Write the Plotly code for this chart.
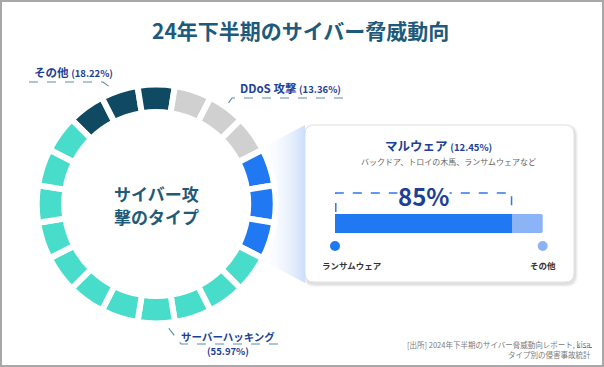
import plotly.graph_objects as go

# ---- data ----
categories = ["その他", "DDoS 攻撃", "マルウェア", "サーバーハッキング"]
shares = [18.22, 13.36, 12.45, 55.97]
segment_counts = [3, 3, 3, 11]          # ring segments per category
colors = ["#0f4a62", "#d0d0d0", "#2079f2", "#48dccb"]
malware_split_labels = ["ランサムウェア", "その他"]
malware_split_values = [85, 15]
malware_split_colors = ["#2079f2", "#8db3f7"]

W, H = 604, 367
FONT = "Noto Sans CJK JP"
NAVY = "#1e3f96"

fig = go.Figure()

# ---- funnel gradient from blue segments to card ----
fig.add_trace(go.Scatter(
    x=[258, 305, 305, 258, 258], y=[150, 125, 283, 258, 150],
    mode="lines", line=dict(width=0), fill="toself",
    fillgradient=dict(type="horizontal",
                      colorscale=[[0, "rgba(255,255,255,0)"], [1, "rgba(205,222,250,1)"]]),
    hoverinfo="skip", showlegend=False))

# ---- donut ring ----
seg_vals, seg_cols = [], []
for n, c in zip(segment_counts, colors):
    seg_vals += [1] * n
    seg_cols += [c] * n
cx, cy, R = 156.2, 204.0, 119.5
fig.add_trace(go.Pie(
    values=seg_vals, marker=dict(colors=seg_cols, line=dict(color="white", width=6)),
    sort=False, direction="clockwise", rotation=-45, hole=0.77,
    textinfo="none", hoverinfo="skip", showlegend=False,
    domain=dict(x=[(cx - R) / W, (cx + R) / W], y=[1 - (cy + R) / H, 1 - (cy - R) / H])))

# ---- malware split bar (x2 axis in percent) ----
bar_y, bar_h = 223.8, 19
fig.add_trace(go.Bar(x=[malware_split_values[0]], y=[bar_y], width=[bar_h], orientation="h",
                     marker=dict(color=malware_split_colors[0], line=dict(width=0)),
                     xaxis="x2", yaxis="y", hoverinfo="skip", showlegend=False))
fig.add_trace(go.Bar(x=[malware_split_values[1]], y=[bar_y], width=[bar_h], orientation="h",
                     marker=dict(color=malware_split_colors[1], line=dict(width=0)),
                     xaxis="x2", yaxis="y", hoverinfo="skip", showlegend=False))
fig.add_trace(go.Scatter(x=[0, 100], y=[246, 246], mode="markers",
                         marker=dict(size=10, color=malware_split_colors),
                         xaxis="x2", yaxis="y", cliponaxis=False,
                         hoverinfo="skip", showlegend=False))

shapes = []
# frame
shapes.append(dict(type="rect", xref="x", yref="y", x0=1, y0=1, x1=603, y1=366,
                   line=dict(color="#a8a8a8", width=2), fillcolor="rgba(0,0,0,0)", layer="above"))

def rrect(x0, y0, x1, y1, r):
    return (f"M {x0+r},{y0} L {x1-r},{y0} Q {x1},{y0} {x1},{y0+r} L {x1},{y1-r} "
            f"Q {x1},{y1} {x1-r},{y1} L {x0+r},{y1} Q {x0},{y1} {x0},{y1-r} "
            f"L {x0},{y0+r} Q {x0},{y0} {x0+r},{y0} Z")

# card shadow + card
for i, a in enumerate([0.03, 0.04, 0.05]):
    d = 3 - i
    shapes.append(dict(type="path", xref="x", yref="y",
                       path=rrect(305 - d + 1, 125 - d + 2, 574 + d + 1, 282 + d + 2, 9 + d),
                       fillcolor=f"rgba(0,0,0,{a})", line=dict(width=0), layer="below"))
shapes.append(dict(type="path", xref="x", yref="y", path=rrect(305, 125, 574, 282, 9),
                   fillcolor="white", line=dict(color="#e2e2e2", width=1), layer="below"))

# dashed bracket over 85% (drawn on the main pixel axes, positioned from x2 scale)
dash_col = "#2f78ea"
x2_left, x2_right = 335.0, 542.7
def x2px(v):
    return x2_left + (x2_right - x2_left) * v / 100.0
bx0, bx1 = x2px(0) + 0.8, x2px(malware_split_values[0])
shapes.append(dict(type="path", xref="x", yref="y",
                   path=f"M {bx0},212 L {bx0},193 L {bx1},193 L {bx1},212",
                   line=dict(color=dash_col, width=1.5, dash="dash"), layer="above"))

# leader lines
lead = "#5b8fa8"
def leader(pts):
    path = "M " + " L ".join(f"{x},{y}" for x, y in pts)
    shapes.append(dict(type="path", xref="x", yref="y", path=path,
                       line=dict(color=lead, width=1.2, dash="dash"), layer="above"))
leader([(29, 82), (103, 82), (114, 90)])
leader([(343, 98), (232, 98), (225, 108)])
leader([(278, 344), (181, 344), (163, 321)])

# red spell underline under kisa
shapes.append(dict(type="line", xref="x", yref="y", x0=577, x1=592, y0=347.5, y1=347.5,
                   line=dict(color="#e05050", width=1, dash="dot")))

ann = []
def text(x, y, s, size, color, xanchor="center", bold=True, xref="x", bg=None):
    d = dict(x=x, y=y, xref=xref, yref="y", text=f"<b>{s}</b>" if bold else s, showarrow=False,
             xanchor=xanchor, yanchor="middle", font=dict(family=FONT, size=size, color=color))
    if bg:
        d["bgcolor"] = bg
        d["borderpad"] = 0
    ann.append(d)

text(300, 30, "24年下半期のサイバー脅威動向", 21, "#1d5a7b")
text(cx, 193, "サイバー攻", 17, "#1f5a78")
text(cx, 216, "撃のタイプ", 17, "#1f5a78")

def pct(v):
    return f"({v:.2f}%)"

text(32, 72, f"{categories[0]} <span style='font-size:9.5px'>{pct(shares[0])}</span>", 11.5, NAVY, "left")
text(238, 88, f"{categories[1]} <span style='font-size:9.5px'>{pct(shares[1])}</span>", 11.5, NAVY, "left")
text(228, 336, categories[3], 10.5, NAVY)
text(228, 351, pct(shares[3]), 9.5, NAVY)

text(383, 145, f"{categories[2]} <span style='font-size:9.5px'>{pct(shares[2])}</span>", 12.5, NAVY, "left")
text(448, 161, "バックドア、トロイの木馬、ランサムウェアなど", 8, "#666666", bold=False)
text(malware_split_values[0] / 2, 195, f"{malware_split_values[0]}%", 24, NAVY, xref="x2", bg="white")
text(8, 265, malware_split_labels[0], 8.5, "#333333", xref="x2")
text(100, 265, malware_split_labels[1], 8.5, "#333333", xref="x2")

ann.append(dict(x=593, y=349, xref="x", yref="y", showarrow=False, xanchor="right", yanchor="middle",
                align="right", text="[出所] 2024年下半期のサイバー脅威動向レポート, kisa<br>タイプ別の侵害事故統計",
                font=dict(family=FONT, size=7.5, color="#7a7a7a")))

fig.update_layout(
    width=W, height=H, margin=dict(l=0, r=0, t=0, b=0),
    paper_bgcolor="white", plot_bgcolor="rgba(0,0,0,0)",
    barmode="stack", barcornerradius=3, bargap=0,
    xaxis=dict(range=[0, W], visible=False, fixedrange=True),
    yaxis=dict(range=[H, 0], visible=False, fixedrange=True),
    xaxis2=dict(domain=[x2_left / W, x2_right / W], range=[0, 100], visible=False, anchor="y", fixedrange=True),
    shapes=shapes, annotations=ann, showlegend=False,
)

fig.write_html("out.html", config={"displayModeBar": False},
               post_script="document.body.style.margin='0';document.body.style.overflow='hidden';")
